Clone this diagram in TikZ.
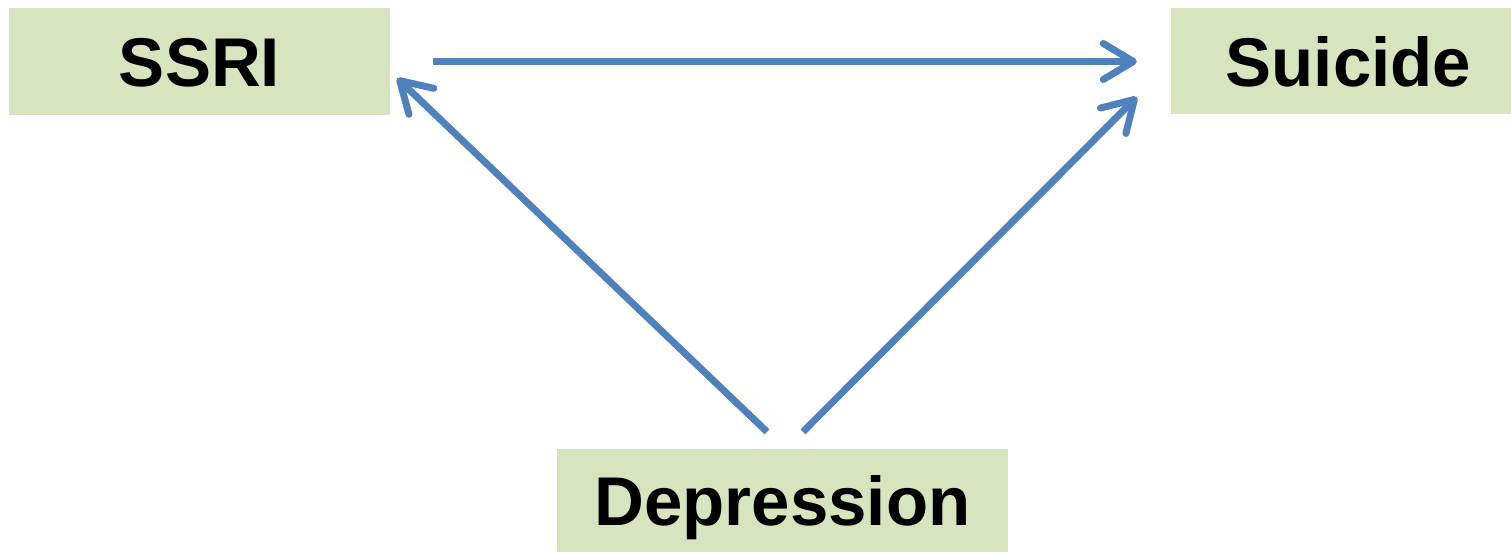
\documentclass[tikz,border=0pt]{standalone}
\usepackage{fontspec}
\setmainfont{Liberation Sans}
\usetikzlibrary{arrows.meta,calc}
\definecolor{boxgreen}{HTML}{D7E4BD}
\definecolor{arrowblue}{HTML}{4F81BD}
\tikzset{
  box/.style={rectangle, fill=boxgreen, inner sep=0pt, text height=50pt, text depth=0pt,
    font=\fontsize{69}{69}\selectfont\bfseries},
  link/.style={draw=arrowblue, line width=7pt,
    -{Straight Barb[length=30pt,width=36pt,round]}}
}
\begin{document}
\begin{tikzpicture}[x=1pt,y=-1pt]
\useasboundingbox (0,0) rectangle (1511,552);
\node[box, minimum width=381pt, minimum height=107pt] (ssri) at (199.5,61.5) {SSRI};
\node[box, minimum width=355pt, minimum height=106pt] (suicide) at (1348.5,61) {Suicide};
\node[box, minimum width=451pt, minimum height=103pt] (dep) at (782.5,500.5) {Depression};
\coordinate (s1) at ($(ssri.east)+(43,0)$);
\coordinate (s2) at ($(suicide.west)+(-34,0.5)$);
\coordinate (d1) at ($(dep.north)+(-15.5,-17)$);
\coordinate (d2) at ($(dep.north)+(20.5,-17)$);
\coordinate (t1) at ($(ssri.south east)+(7,-37)$);
\coordinate (t2) at ($(suicide.west)+(-34,36)$);
\draw[link] (s1) -- (s2);
\draw[link] (d1) -- (t1);
\draw[link] (d2) -- (t2);
\end{tikzpicture}
\end{document}
